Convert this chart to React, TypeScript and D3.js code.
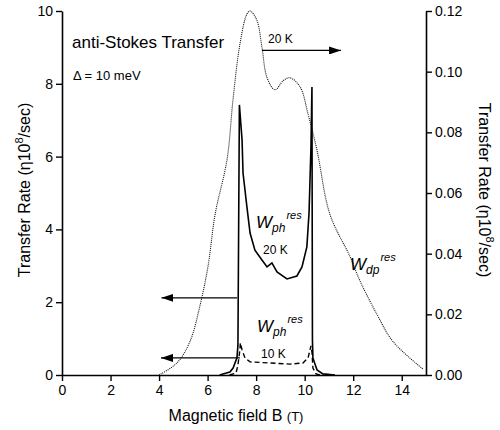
import { useEffect, useRef } from "react";
import * as d3 from "d3";

// W_dp^res (right axis, η10^8/sec)
const dpField = [4.0, 4.74, 5.27, 5.69, 6.02, 6.31, 6.8, 7.05, 7.33, 7.62, 7.75, 8.03, 8.24, 8.45, 8.78, 9.11, 9.39, 9.81, 10.14, 10.51, 11.04, 11.87, 12.28, 12.98, 13.64, 14.87];
const dpRate = [0, 0.004, 0.011, 0.023, 0.036, 0.053, 0.071, 0.091, 0.109, 0.119, 0.12, 0.117, 0.108, 0.098, 0.094, 0.097, 0.098, 0.095, 0.086, 0.074, 0.053, 0.039, 0.031, 0.02, 0.011, 0.002];

// W_ph^res 20 K (left axis)
const ph20Field = [6.5, 6.63, 6.92, 7.05, 7.21, 7.25, 7.31, 7.42, 7.46, 7.62, 7.75, 7.95, 8.24, 8.45, 8.65, 8.86, 9.27, 9.68, 9.89, 10.09, 10.18, 10.22, 10.26, 10.3, 10.32, 10.34, 10.51, 10.75, 11.25];
const ph20Rate = [0, 0.03, 0.08, 0.19, 0.47, 0.82, 7.42, 6.46, 5.55, 4.62, 3.9, 3.43, 3.16, 2.97, 3.08, 2.83, 2.64, 2.72, 2.97, 3.52, 4.45, 5.36, 6.26, 7.91, 0.96, 0.47, 0.14, 0.03, 0];

// W_ph^res 10 K (left axis)
const ph10Field = [6.9, 7.17, 7.25, 7.33, 7.35, 7.42, 7.54, 7.75, 8.57, 9.39, 9.93, 10.14, 10.22, 10.26, 10.3, 10.34, 10.47, 10.63];
const ph10Rate = [0, 0.05, 0.27, 0.69, 0.88, 0.69, 0.47, 0.36, 0.33, 0.3, 0.33, 0.47, 0.69, 0.8, 0.63, 0.19, 0.03, 0];

const xTicks = [0, 2, 4, 6, 8, 10, 12, 14];
const yLeftTicks = [0, 2, 4, 6, 8, 10];
const yRightTicks = [0, 0.02, 0.04, 0.06, 0.08, 0.1, 0.12];

const FONT = "Liberation Sans, Arial, Helvetica, sans-serif";

const App = () => {
  const ref = useRef<SVGSVGElement>(null);

  useEffect(() => {
    const width = 500;
    const height = 430;
    const margin = { top: 11, right: 74, bottom: 55, left: 62 };
    const svg = d3.select(ref.current);
    svg.selectAll("*").remove();

    const x = d3.scaleLinear().domain([0, 15]).range([margin.left, width - margin.right]);
    const yL = d3.scaleLinear().domain([0, 10]).range([height - margin.bottom, margin.top]);
    const yR = d3.scaleLinear().domain([0, 0.12]).range([height - margin.bottom, margin.top]);

    const defs = svg.append("defs");
    defs.append("marker")
      .attr("id", "head")
      .attr("viewBox", "0 0 12 8")
      .attr("refX", 12)
      .attr("refY", 4)
      .attr("markerWidth", 12)
      .attr("markerHeight", 8)
      .attr("markerUnits", "userSpaceOnUse")
      .attr("orient", "auto")
      .append("path")
      .attr("d", "M0,0 L12,4 L0,8 Z")
      .attr("fill", "#000");

    // axes
    const axisStyle = (g: any) => {
      g.selectAll("path").attr("stroke", "#000").attr("stroke-width", 1.6);
      g.selectAll("line").attr("stroke", "#000").attr("stroke-width", 1.4);
      g.selectAll("text").style("font-family", FONT).style("font-size", "14px").attr("fill", "#000");
    };

    svg.append("g")
      .attr("transform", `translate(0,${height - margin.bottom})`)
      .call(d3.axisBottom(x).tickValues(xTicks).tickSize(6).tickSizeOuter(0).tickPadding(4))
      .call(axisStyle);

    svg.append("g")
      .attr("transform", `translate(${margin.left},0)`)
      .call(d3.axisLeft(yL).tickValues(yLeftTicks).tickSize(6).tickSizeOuter(0).tickPadding(3))
      .call(axisStyle);

    svg.append("g")
      .attr("transform", `translate(${width - margin.right},0)`)
      .call(d3.axisRight(yR).tickValues(yRightTicks).tickFormat(d3.format(".2f")).tickSize(6).tickSizeOuter(0).tickPadding(3))
      .call(axisStyle);

    // curves
    const dpLine = d3.line<number>()
      .x((d, i) => x(dpField[i]))
      .y(d => yR(d))
      .curve(d3.curveCatmullRom);
    svg.append("path")
      .attr("d", dpLine(dpRate))
      .attr("fill", "none")
      .attr("stroke", "#111")
      .attr("stroke-width", 1.1)
      .attr("stroke-dasharray", "1,1");

    const ph20Line = d3.line<number>()
      .x((d, i) => x(ph20Field[i]))
      .y(d => yL(d));
    svg.append("path")
      .attr("d", ph20Line(ph20Rate))
      .attr("fill", "none")
      .attr("stroke", "#000")
      .attr("stroke-width", 1.6);

    const ph10Line = d3.line<number>()
      .x((d, i) => x(ph10Field[i]))
      .y(d => yL(d));
    svg.append("path")
      .attr("d", ph10Line(ph10Rate))
      .attr("fill", "none")
      .attr("stroke", "#000")
      .attr("stroke-width", 1.4)
      .attr("stroke-dasharray", "5,3");

    // arrows
    const arrows = [
      { x1: x(8.24), x2: x(11.5), y: yR(0.107) },
      { x1: x(7.22), x2: x(4.1), y: yL(2.12) },
      { x1: x(7.33), x2: x(4.08), y: yL(0.47) },
    ];
    arrows.forEach(a => {
      svg.append("line")
        .attr("x1", a.x1).attr("x2", a.x2)
        .attr("y1", a.y).attr("y2", a.y)
        .attr("stroke", "#000")
        .attr("stroke-width", 1.3)
        .attr("marker-end", "url(#head)");
    });

    const text = (tx: number, ty: number, s: string, size: number, anchor = "start") =>
      svg.append("text")
        .attr("x", tx).attr("y", ty)
        .attr("text-anchor", anchor)
        .style("font-family", FONT)
        .style("font-size", `${size}px`)
        .attr("fill", "#000")
        .text(s);

    text(72, 48, "anti-Stokes Transfer", 17);
    text(73, 80, "Δ = 10 meV", 13);
    text(268, 43, "20 K", 12);
    text(263, 254, "20 K", 12);
    text(261, 358, "10 K", 12);

    // W labels with sub/superscripts
    const wLabel = (tx: number, ty: number, sub: string) => {
      const t = svg.append("text")
        .attr("x", tx).attr("y", ty)
        .style("font-family", FONT)
        .style("font-style", "italic")
        .attr("fill", "#000");
      t.append("tspan").style("font-size", "17px").text("W");
      t.append("tspan").style("font-size", "12px").attr("dy", 4).text(sub);
      t.append("tspan").style("font-size", "11px").attr("dx", 1).attr("dy", -13).text("res");
    };
    wLabel(256, 228, "ph");
    wLabel(257, 332, "ph");
    wLabel(350, 270, "dp");

    // axis titles
    const bx = svg.append("text")
      .attr("x", 236).attr("y", 421)
      .attr("text-anchor", "middle")
      .style("font-family", FONT)
      .attr("fill", "#000");
    bx.append("tspan").style("font-size", "16px").text("Magnetic field B ");
    bx.append("tspan").style("font-size", "13px").text("(T)");

    const yTitle = (tx: number, rot: number) => {
      const t = svg.append("text")
        .attr("transform", `translate(${tx},190) rotate(${rot})`)
        .attr("text-anchor", "middle")
        .style("font-family", FONT)
        .style("font-size", "16px")
        .attr("fill", "#000");
      t.append("tspan").text("Transfer Rate (η10");
      t.append("tspan").style("font-size", "11px").attr("dy", -7).text("8");
      t.append("tspan").attr("dy", 7).text("/sec)");
    };
    yTitle(30, -90);
    yTitle(479, 90);
  }, []);

  return (
    <svg
      ref={ref}
      width={500}
      height={430}
      style={{ position: "absolute", left: 0, top: 0, background: "#fff" }}
    />
  );
};

export default App;
